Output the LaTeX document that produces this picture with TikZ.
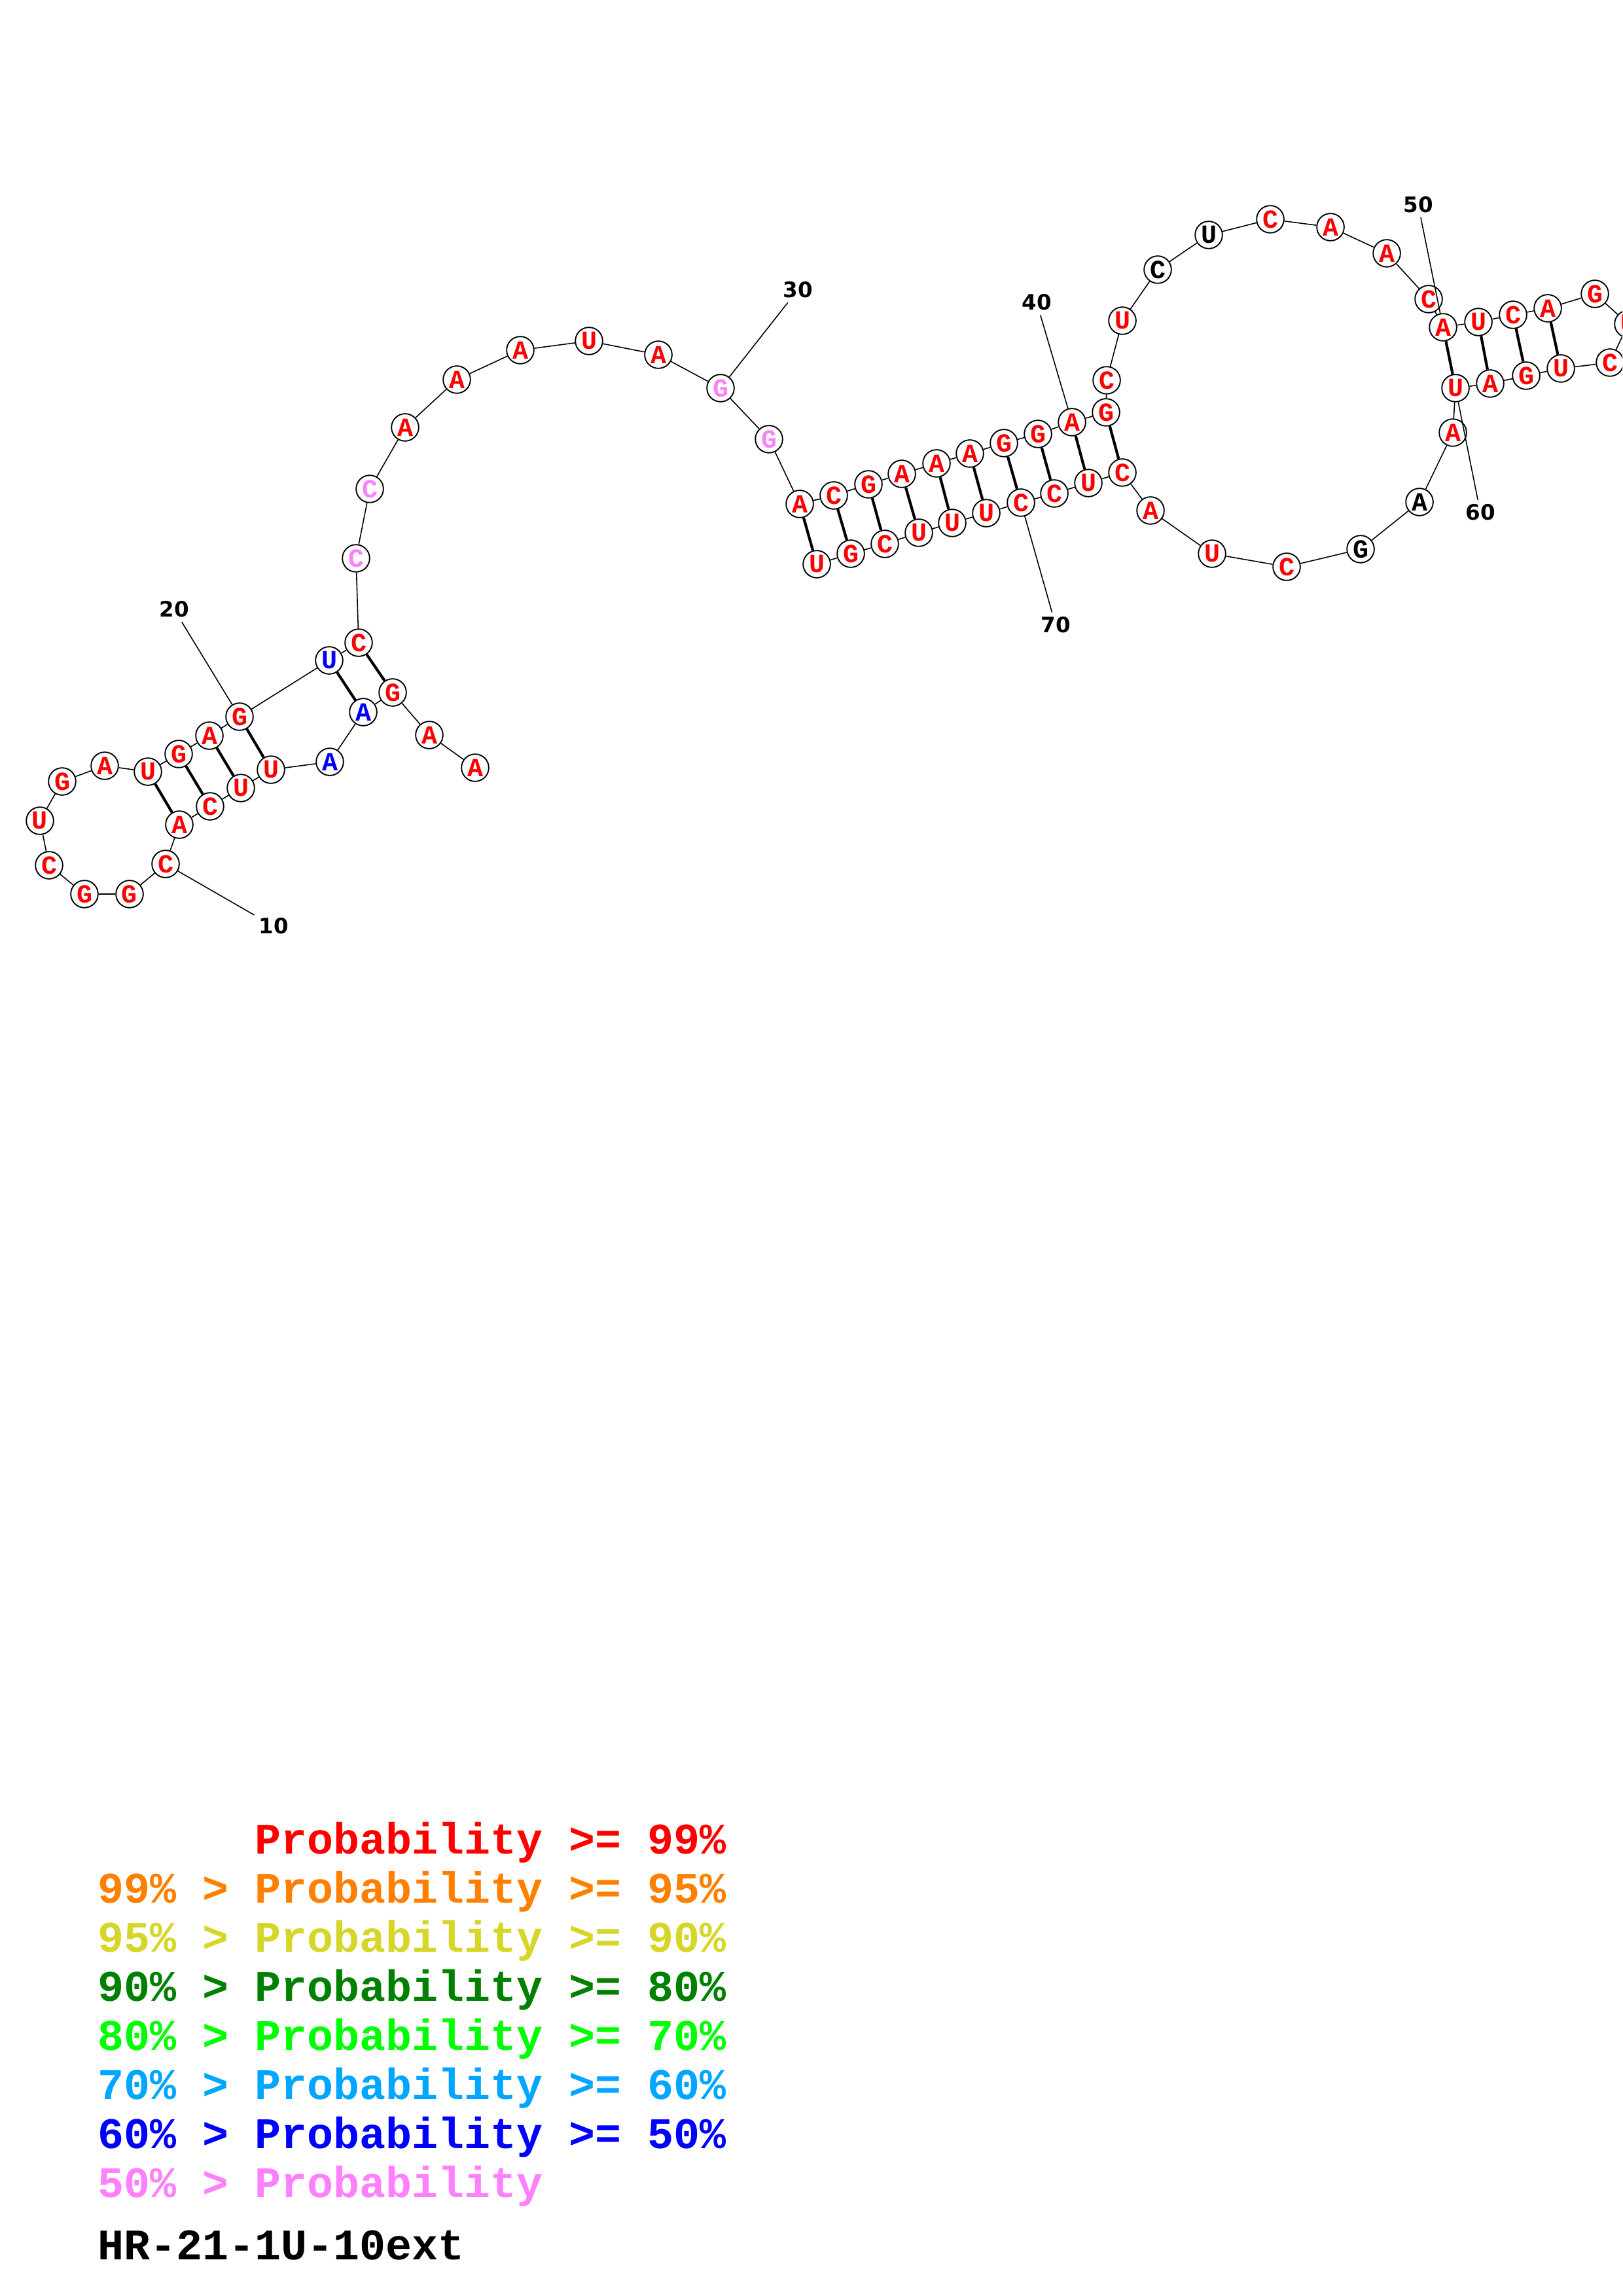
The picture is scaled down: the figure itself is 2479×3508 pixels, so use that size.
\documentclass[tikz,border=0pt]{standalone}
\usepackage{fontspec}
\newfontfamily\courfont{Liberation Mono}
\newfontfamily\labfont{DejaVu Sans}
\definecolor{pa}{RGB}{255,0,0}
\definecolor{pb}{RGB}{255,128,0}
\definecolor{pc}{RGB}{214,214,40}
\definecolor{pd}{RGB}{0,128,0}
\definecolor{pe}{RGB}{0,255,0}
\definecolor{pf}{RGB}{0,166,255}
\definecolor{pg}{RGB}{0,0,255}
\definecolor{ph}{RGB}{255,128,255}
\tikzset{
  nuc/.style={circle,draw,fill=white,line width=0.45pt,minimum size=10pt,inner sep=0pt,
    font=\courfont\bfseries\fontsize{9.6pt}{9.6pt}\selectfont},
  bp/.style={line width=1pt},
  numlab/.style={inner sep=1.5pt,font=\labfont\bfseries\fontsize{7.8pt}{7.8pt}\selectfont},
  legend/.style={anchor=base west,inner sep=0pt,font=\courfont\bfseries\fontsize{16pt}{16pt}\selectfont}
}
\begin{document}
\begin{tikzpicture}[x=0.24pt,y=-0.24pt,line width=0.38pt]
    \useasboundingbox (0,0) rectangle (2479,3508);
    \clip (0,0) rectangle (2479,3508);

    \node[nuc,text=pa] (N1) at (726,1173) {A};
    \node[nuc,text=pa] (N2) at (656,1123) {A};
    \node[nuc,text=pa] (N3) at (600,1058) {G};
    \node[nuc,text=pg] (N4) at (555,1088) {A};
    \node[nuc,text=pg] (N5) at (504,1164) {A};
    \node[nuc,text=pa] (N6) at (414,1176) {U};
    \node[nuc,text=pa] (N7) at (368,1204) {U};
    \node[nuc,text=pa] (N8) at (321,1232) {C};
    \node[nuc,text=pa] (N9) at (274,1260) {A};
    \node[nuc,text=pa] (N10) at (253,1320) {C};
    \node[nuc,text=pa] (N11) at (198,1366) {G};
    \node[nuc,text=pa] (N12) at (129,1366) {G};
    \node[nuc,text=pa] (N13) at (75,1322) {C};
    \node[nuc,text=pa] (N14) at (61,1254) {U};
    \node[nuc,text=pa] (N15) at (95,1194) {G};
    \node[nuc,text=pa] (N16) at (160,1170) {A};
    \node[nuc,text=pa] (N17) at (226,1179) {U};
    \node[nuc,text=pa] (N18) at (273,1152) {G};
    \node[nuc,text=pa] (N19) at (320,1124) {A};
    \node[nuc,text=pa] (N20) at (366,1095) {G};
    \node[nuc,text=pg] (N21) at (503,1009) {U};
    \node[nuc,text=pa] (N22) at (548,982) {C};
    \node[nuc,text=ph] (N23) at (544,853) {C};
    \node[nuc,text=ph] (N24) at (565,747) {C};
    \node[nuc,text=pa] (N25) at (619,653) {A};
    \node[nuc,text=pa] (N26) at (698,580) {A};
    \node[nuc,text=pa] (N27) at (795,535) {A};
    \node[nuc,text=pa] (N28) at (900,521) {U};
    \node[nuc,text=pa] (N29) at (1006,542) {A};
    \node[nuc,text=ph] (N30) at (1101,593) {G};
    \node[nuc,text=ph] (N31) at (1175,671) {G};
    \node[nuc,text=pa] (N32) at (1222,770) {A};
    \node[nuc,text=pa] (N33) at (1274,757) {C};
    \node[nuc,text=pa] (N34) at (1327,740) {G};
    \node[nuc,text=pa] (N35) at (1378,724) {A};
    \node[nuc,text=pa] (N36) at (1431,708) {A};
    \node[nuc,text=pa] (N37) at (1482,693) {A};
    \node[nuc,text=pa] (N38) at (1534,677) {G};
    \node[nuc,text=pa] (N39) at (1586,663) {G};
    \node[nuc,text=pa] (N40) at (1638,645) {A};
    \node[nuc,text=pa] (N41) at (1690,630) {G};
    \node[nuc,text=pa] (N42) at (1691,581) {C};
    \node[nuc,text=pa] (N43) at (1715,490) {U};
    \node[nuc] (N44) at (1769,412) {C};
    \node[nuc] (N45) at (1847,359) {U};
    \node[nuc,text=pa] (N46) at (1941,335) {C};
    \node[nuc,text=pa] (N47) at (2033,347) {A};
    \node[nuc,text=pa] (N48) at (2119,387) {A};
    \node[nuc,text=pa] (N49) at (2183,457) {C};
    \node[nuc,text=pa] (N50) at (2205,500) {A};
    \node[nuc,text=pa] (N51) at (2259,492) {U};
    \node[nuc,text=pa] (N52) at (2312,481) {C};
    \node[nuc,text=pa] (N53) at (2365,471) {A};
    \node[nuc,text=pa] (N54) at (2437,449) {G};
    \node[nuc,text=pa] (N55) at (2488,495) {U};
    \node[nuc,text=pa] (N56) at (2460,554) {C};
    \node[nuc,text=pa] (N57) at (2385,563) {U};
    \node[nuc,text=pa] (N58) at (2332,574) {G};
    \node[nuc,text=pa] (N59) at (2277,586) {A};
    \node[nuc,text=pa] (N60) at (2224,593) {U};
    \node[nuc,text=pa] (N61) at (2220,661) {A};
    \node[nuc] (N62) at (2169,767) {A};
    \node[nuc] (N63) at (2079,839) {G};
    \node[nuc,text=pa] (N64) at (1966,866) {C};
    \node[nuc,text=pa] (N65) at (1852,846) {U};
    \node[nuc,text=pa] (N66) at (1758,780) {A};
    \node[nuc,text=pa] (N67) at (1715,722) {C};
    \node[nuc,text=pa] (N68) at (1663,738) {U};
    \node[nuc,text=pa] (N69) at (1611,754) {C};
    \node[nuc,text=pa] (N70) at (1560,768) {C};
    \node[nuc,text=pa] (N71) at (1507,784) {U};
    \node[nuc,text=pa] (N72) at (1455,799) {U};
    \node[nuc,text=pa] (N73) at (1404,814) {U};
    \node[nuc,text=pa] (N74) at (1352,831) {C};
    \node[nuc,text=pa] (N75) at (1300,846) {G};
    \node[nuc,text=pa] (N76) at (1248,862) {U};

    \node[numlab] (L10) at (418,1415) {10};
    \node[numlab] (L20) at (266,931) {20};
    \node[numlab] (L30) at (1219,443) {30};
    \node[numlab] (L40) at (1584,462) {40};
    \node[numlab] (L50) at (2167,313) {50};
    \node[numlab] (L60) at (2262,783) {60};
    \node[numlab] (L70) at (1613,955) {70};

    \draw (N1) -- (N2) -- (N3) -- (N4) -- (N5) -- (N6) -- (N7) -- (N8) -- (N9) -- (N10)
      -- (N11) -- (N12) -- (N13) -- (N14) -- (N15) -- (N16) -- (N17) -- (N18) -- (N19) -- (N20)
      -- (N21) -- (N22) -- (N23) -- (N24) -- (N25) -- (N26) -- (N27) -- (N28) -- (N29) -- (N30)
      -- (N31) -- (N32) -- (N33) -- (N34) -- (N35) -- (N36) -- (N37) -- (N38) -- (N39) -- (N40)
      -- (N41) -- (N42) -- (N43) -- (N44) -- (N45) -- (N46) -- (N47) -- (N48) -- (N49) -- (N50)
      -- (N51) -- (N52) -- (N53) -- (N54) -- (N55) -- (N56) -- (N57) -- (N58) -- (N59) -- (N60)
      -- (N61) -- (N62) -- (N63) -- (N64) -- (N65) -- (N66) -- (N67) -- (N68) -- (N69) -- (N70)
      -- (N71) -- (N72) -- (N73) -- (N74) -- (N75) -- (N76);

    \draw[bp] (N3) -- (N22);
    \draw[bp] (N4) -- (N21);
    \draw[bp] (N6) -- (N20);
    \draw[bp] (N7) -- (N19);
    \draw[bp] (N8) -- (N18);
    \draw[bp] (N9) -- (N17);
    \draw[bp] (N32) -- (N76);
    \draw[bp] (N33) -- (N75);
    \draw[bp] (N34) -- (N74);
    \draw[bp] (N35) -- (N73);
    \draw[bp] (N36) -- (N72);
    \draw[bp] (N37) -- (N71);
    \draw[bp] (N38) -- (N70);
    \draw[bp] (N39) -- (N69);
    \draw[bp] (N40) -- (N68);
    \draw[bp] (N41) -- (N67);
    \draw[bp] (N50) -- (N60);
    \draw[bp] (N51) -- (N59);
    \draw[bp] (N52) -- (N58);
    \draw[bp] (N53) -- (N57);

    \draw (N10) -- (L10);
    \draw (N20) -- (L20);
    \draw (N30) -- (L30);
    \draw (N40) -- (L40);
    \draw (N50) -- (L50);
    \draw (N60) -- (L60);
    \draw (N70) -- (L70);

    \node[legend,text=pa] (K1) at (389,2832) {Probability >= 99\%};
    \node[legend,text=pb] (K2) at (149,2907) {99\% > Probability >= 95\%};
    \node[legend,text=pc] (K3) at (149,2982) {95\% > Probability >= 90\%};
    \node[legend,text=pd] (K4) at (149,3057) {90\% > Probability >= 80\%};
    \node[legend,text=pe] (K5) at (149,3132) {80\% > Probability >= 70\%};
    \node[legend,text=pf] (K6) at (149,3207) {70\% > Probability >= 60\%};
    \node[legend,text=pg] (K7) at (149,3282) {60\% > Probability >= 50\%};
    \node[legend,text=ph] (K8) at (149,3357) {50\% > Probability};
    \node[legend] (title) at (149,3452) {HR-21-1U-10ext};
\end{tikzpicture}
\end{document}
